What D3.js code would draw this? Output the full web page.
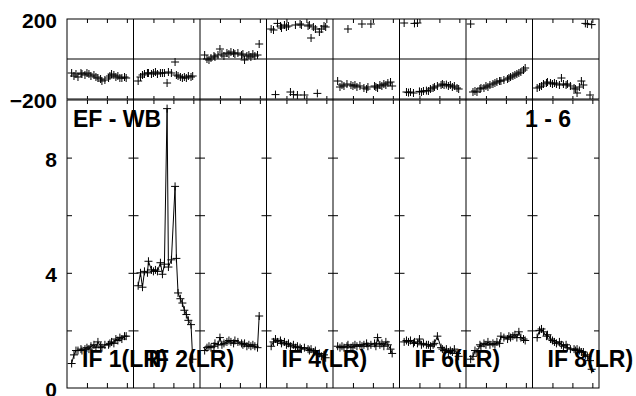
<!DOCTYPE html>
<html><head><meta charset="utf-8">
<script src="https://cdn.jsdelivr.net/npm/d3@7"></script>
<style>
body{margin:0;background:#fff}
svg{display:block}
text{font-family:"Liberation Sans",Arial,Helvetica,sans-serif;font-weight:bold;fill:#000}
</style>
</head><body><svg id="c" width="636" height="396"></svg>
<script>
// ---------- data ----------
const times = [0.7,1.05,1.35,1.65,2.1,2.25,2.7,3.0,3.3,3.6,4.05,4.35,4.65,5.05,5.25,5.7,6.25,6.45,6.7,7.05,7.35,7.65,7.95,8.25,8.65,8.9];
const ifLabels = ["IF 1(LR)","IF 2(LR)","IF 3(LR)","IF 4(LR)","IF 5(LR)","IF 6(LR)","IF 7(LR)","IF 8(LR)"];
const shownLabelIdx = [0,1,3,5,7];

const amp1 = [0.85,1.15,1.3,1.3,1.35,1.3,1.35,1.4,1.35,1.45,1.5,1.4,1.6,1.45,1.4,1.5,1.5,1.55,1.6,1.55,1.7,1.65,1.75,1.7,1.8,1.8];
const amp2 = [3.55,4.0,3.5,4.05,4.0,4.4,4.1,4.05,4.1,4.05,4.35,3.95,4.3,9.7,4.2,4.45,7.0,4.5,3.3,3.1,2.95,2.7,2.55,2.35,2.2,1.0];
const amp3 = [1.3,1.4,1.45,1.4,1.45,1.55,1.5,1.75,1.5,1.55,1.6,1.65,1.6,1.55,1.65,1.6,1.55,1.5,1.55,1.45,1.5,1.45,1.5,1.45,1.4,2.5];
const amp4 = [1.45,1.6,1.7,1.6,1.65,1.55,1.6,1.5,1.55,1.45,1.5,1.4,1.45,1.4,1.35,1.4,1.35,1.3,1.35,1.25,1.3,1.15,1.2,1.1,1.15,1.05];
const amp5 = [1.45,1.4,1.45,1.4,1.45,1.5,1.4,1.45,1.5,1.45,1.5,1.45,1.5,1.55,1.45,1.5,1.55,1.45,1.75,1.5,1.55,1.45,1.6,1.5,1.35,1.2];
const amp6 = [1.6,1.65,1.6,1.65,1.55,1.6,1.55,1.7,1.5,1.55,1.5,1.5,1.45,1.5,1.55,1.8,1.4,1.35,1.3,1.35,1.25,1.3,1.25,1.35,1.2,1.1];
const amp7 = [1.0,1.1,1.3,1.25,1.5,1.45,1.55,1.5,1.6,1.5,1.55,1.5,1.6,1.55,1.8,1.75,1.7,1.8,1.75,1.8,1.85,1.75,1.95,1.75,1.7,1.65];
const amp8 = [1.75,2.0,2.05,1.95,1.8,1.85,1.7,1.65,1.6,1.55,1.6,1.5,1.45,1.5,1.4,1.35,1.35,1.3,1.35,1.3,1.25,1.25,1.15,1.1,0.95,0.65];

const phase1 = [-70,-85,-75,-90,-70,-75,-80,-70,-75,-85,-80,-90,-95,-100,-110,-105,-95,-85,-75,-80,-90,-85,-95,-95,-90,-95];
const phase2 = [-110,-90,-80,-75,-70,-70,-75,-70,-65,-75,-70,-70,-70,-120,-65,-70,-15,-80,-85,-90,-95,-90,-95,-85,-90,-85];
const phase3 = [20,0,-5,5,15,10,20,50,25,15,30,25,35,30,25,30,20,25,-5,15,20,10,25,15,20,75];
const phase4 = [150,145,-178,178,165,155,170,160,165,-165,-178,170,-180,175,170,-180,165,170,105,160,150,-172,135,150,165,160];
const phase5 = [-110,-140,-130,-135,-125,150,-130,-135,-130,-140,-135,175,-145,-150,-140,175,-135,-140,-145,-130,-135,-125,-130,-120,-115,-135];
const phase6 = [180,-165,-168,-165,-170,178,180,-162,-165,-160,-158,-160,-150,-145,-140,-135,-130,-125,-130,-128,-135,-130,-140,-135,-145,-150];
const phase7 = [175,-165,-160,-165,-150,-145,-145,-135,-140,-130,-125,-120,-115,-110,-110,-105,-100,-95,-90,-85,-80,-75,-70,-65,-55,-45];
const phase8 = [-145,-140,-135,-125,-120,-115,-120,-125,-120,-125,-130,-95,-125,-130,-125,-135,-145,-150,-170,-140,-110,-130,178,175,-180,172];

const phaseTickLabels = [200,-200];
const ampTickLabels = [0,4,8];
const ampTicks = [2,4,6,8];
const timeTicks = [3,6,9];
const title = "EF - WB";
const subtitle = "1 - 6";

const ampSeries = [amp1,amp2,amp3,amp4,amp5,amp6,amp7,amp8];
const phaseSeries = [phase1,phase2,phase3,phase4,phase5,phase6,phase7,phase8];

// ---------- layout ----------
const svg = d3.select("#c");
const nP = 8;
const px = d3.scaleLinear().domain([0,nP]).range([67,599]);
const pw = px(1)-px(0);
const yP = d3.scaleLinear().domain([-200,200]).range([99,19]);
const yA = d3.scaleLinear().domain([0,10]).range([388,100]);
const xT = d3.scaleLinear().domain([0,10]).range([0,pw]);

const frame = svg.append("g").attr("fill","none").attr("stroke","#000").attr("stroke-width",1);
frame.append("rect").attr("x",px(0)).attr("y",yP(200)).attr("width",px(nP)-px(0)).attr("height",yP(-200)-yP(200));
frame.append("rect").attr("x",px(0)).attr("y",yA(10)).attr("width",px(nP)-px(0)).attr("height",yA(0)-yA(10));
frame.append("line").attr("x1",px(0)).attr("x2",px(nP)).attr("y1",yP(0)).attr("y2",yP(0));
d3.range(1,nP).forEach(i=>{
  frame.append("line").attr("x1",px(i)).attr("x2",px(i)).attr("y1",yP(200)).attr("y2",yA(0));
});

const plus = "M-4,0H4M0,-4V4";

for(let i=0;i<nP;i++){
  const g = svg.append("g").attr("transform",`translate(${px(i)},0)`);
  // time ticks
  const tk = (axis,y,size)=>{
    const a = g.append("g").attr("transform",`translate(0,${y})`)
      .call(axis(xT).tickValues(timeTicks).tickSize(size).tickFormat(""));
    a.select(".domain").remove();
    a.selectAll("line").attr("stroke","#000");
  };
  tk(d3.axisBottom, yP(200), 4);
  tk(d3.axisTop, yP(-200), 3);
  tk(d3.axisBottom, yA(10), 4);
  tk(d3.axisTop, yA(0), 5);
  // amplitude y ticks inward on both sides
  const yl = g.append("g").call(d3.axisRight(yA).tickValues(ampTicks).tickSize(5).tickFormat(""));
  yl.select(".domain").remove();
  const yr = g.append("g").attr("transform",`translate(${pw},0)`)
    .call(d3.axisLeft(yA).tickValues(ampTicks).tickSize(5).tickFormat(""));
  yr.select(".domain").remove();

  // phase markers
  g.append("g").selectAll("path").data(phaseSeries[i]).join("path")
    .attr("d",plus).attr("transform",(d,k)=>`translate(${xT(times[k])},${yP(d)})`)
    .attr("stroke","#000").attr("stroke-width",1).attr("fill","none");

  // amplitude line + markers
  const line = d3.line().x((d,k)=>xT(times[k])).y(d=>yA(d));
  g.append("path").datum(ampSeries[i]).attr("d",line)
    .attr("fill","none").attr("stroke","#000").attr("stroke-width",1);
  g.append("g").selectAll("path").data(ampSeries[i]).join("path")
    .attr("d",plus).attr("transform",(d,k)=>`translate(${xT(times[k])},${yA(d)})`)
    .attr("stroke","#000").attr("stroke-width",1).attr("fill","none");
}

// y labels
const la = svg.append("g").attr("transform",`translate(${px(0)},0)`)
  .call(d3.axisLeft(yA).tickValues(ampTickLabels).tickSize(0).tickPadding(10).tickFormat(d3.format("d")));
la.select(".domain").remove();
const lp = svg.append("g").attr("transform",`translate(${px(0)},0)`)
  .call(d3.axisLeft(yP).tickValues(phaseTickLabels).tickSize(0).tickPadding(10).tickFormat(d3.format("d")));
lp.select(".domain").remove();
svg.selectAll(".tick text").attr("font-size",21).attr("dy","0.4em")
  .style("font-family",'"Liberation Sans",Arial,sans-serif').style("font-weight","bold");

// titles
svg.append("text").attr("x",px(0)+6).attr("y",127).attr("font-size",23).text(title);
svg.append("text").attr("x",525).attr("y",127).attr("font-size",23).text(subtitle);

// IF labels
svg.append("g").selectAll("text").data(shownLabelIdx).join("text")
  .attr("x",i=>px(i)+15).attr("y",367).attr("font-size",23).text(i=>ifLabels[i]);
</script>
</body></html>
